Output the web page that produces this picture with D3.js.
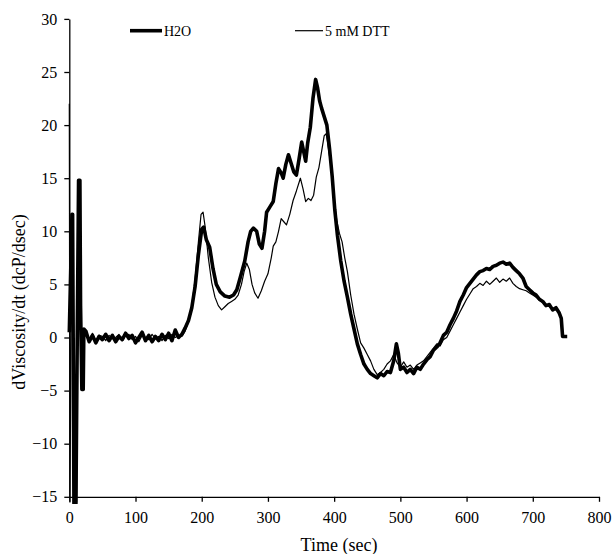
<!DOCTYPE html>
<html>
<head>
<meta charset="utf-8">
<script src="https://cdn.jsdelivr.net/npm/d3@7"></script>
<style>
  body { margin: 0; background: #fff; }
  svg text { font-family: "Liberation Serif", "Times New Roman", Times, serif; fill: #000; }
</style>
</head>
<body>
<div id="chart"></div>
<script>
// H2O series (time in sec, dViscosity/dt)
const h2oTime = [0, 2, 4, 5, 7, 10, 12, 14, 16, 17, 19, 21, 22, 25, 30, 35, 40, 45, 50, 55, 60, 65, 70, 75, 80, 85, 90, 95, 100, 105, 110, 115, 120, 125, 130, 135, 140, 145, 150, 155, 160, 165, 170, 175,
  180, 185, 190, 195, 200, 203, 207, 212, 217, 222, 228, 235, 242, 248, 253, 258, 265, 270, 274, 278, 283, 287, 291, 295, 298, 303, 308, 312, 316, 320, 323, 327, 331, 335, 339, 343, 347, 351, 354, 357, 360, 364, 368, 372, 375, 378, 381, 385, 389, 393, 397, 401, 405, 410, 415, 420, 425, 430, 435, 440, 445, 450, 455, 460, 465, 470, 475, 480, 485, 490, 494, 497, 500, 505, 510, 515, 520, 525, 530, 535, 540, 545, 550, 555, 560, 565, 570, 575, 580, 585, 590, 595, 600, 605, 610, 615, 620, 625, 630, 635, 640, 645, 650, 655, 660, 665, 670, 675, 680, 685, 690, 695, 700, 705, 710, 715, 720, 725, 730, 735, 740, 743, 745, 752];
const h2oValue = [0.5, 6, 11.6, 11.6, -15.6, -15.6, 0, 14.8, 14.8, 3, -4.9, -4.9, 0.8, 0.6, -0.4, 0.2, -0.5, 0.1, -0.2, 0.3, -0.3, 0.2, -0.4, 0.1, -0.2, 0.4, -0.1, 0.2, -0.5, 0.0, 0.5, -0.3, 0.2, -0.4, 0.1, -0.3, 0.3, -0.2, 0.4, -0.3, 0.7, 0.0, 0.3, 0.9,
  1.6, 2.8, 4.8, 7.8, 10.2, 10.4, 9.2, 8.5, 6.5, 5.0, 4.3, 3.9, 3.8, 4.0, 4.5, 5.6, 7.2, 9.0, 10.0, 10.3, 10.0, 8.8, 8.4, 10.0, 11.8, 12.3, 12.8, 14.5, 15.9, 15.5, 15.0, 16.3, 17.2, 16.4, 15.6, 15.3, 16.8, 18.4, 17.5, 16.6, 18.3, 19.8, 22.5, 24.3, 23.5, 22.3, 21.6, 20.8, 20.0, 17.8, 15.2, 12.0, 9.6, 7.2, 5.3, 3.8, 2.2, 0.8, -0.6, -1.6, -2.5, -3.0, -3.4, -3.6, -3.8, -3.4, -3.6, -3.2, -3.3, -2.2, -0.6, -1.5, -3.0, -2.8, -3.3, -3.0, -3.4, -2.8, -3.0, -2.5, -2.1, -1.8, -1.2, -0.9, -0.5, 0.2, 0.5, 1.2, 1.8, 2.5, 3.4, 4.0, 4.7, 5.1, 5.5, 5.9, 6.2, 6.3, 6.5, 6.4, 6.7, 6.8, 7.0, 7.1, 6.9, 7.0, 6.6, 6.3, 6.0, 5.6, 4.8, 4.5, 4.2, 4.0, 3.6, 3.4, 3.0, 3.1, 2.6, 2.8, 2.3, 1.8, 0.1, 0.1];

// 5 mM DTT series
const dttTime = [0, 1, 3, 5, 8, 11, 13, 15, 17, 19, 22, 25, 30, 35, 40, 45, 50, 55, 60, 65, 70, 75, 80, 85, 90, 95, 100, 105, 110, 115, 120, 125, 130, 135, 140, 145, 150, 155, 160, 165, 170, 175,
  180, 185, 190, 195, 199, 202, 205, 210, 215, 220, 225, 230, 235, 240, 245, 250, 255, 260, 264, 268, 272, 276, 280, 285, 290, 295, 300, 305, 308, 312, 316, 320, 324, 328, 333, 338, 343, 349, 353, 357, 361, 365, 369, 373, 377, 381, 385, 388, 392, 396, 400, 404, 408, 412, 416, 420, 425, 430, 435, 440, 445, 450, 455, 460, 465, 470, 475, 480, 485, 490, 495, 500, 505, 510, 515, 520, 525, 530, 535, 540, 545, 550, 555, 560, 565, 570, 575, 580, 585, 590, 595, 600, 605, 610, 615, 620, 625, 630, 635, 640, 645, 650, 655, 660, 665, 670, 675, 680, 685, 690, 695, 700, 705, 710, 715, 720, 725, 730, 735, 740, 743, 745, 750];
const dttValue = [22, -15.5, 4, 11, -15.5, -15.5, 5, 14, 2, -4.5, 0.6, 0.3, -0.2, 0.4, -0.3, 0.2, 0.1, -0.3, 0.2, -0.1, 0.0, 0.3, -0.3, 0.2, 0.3, -0.2, 0.1, -0.4, 0.2, 0.0, -0.2, 0.3, -0.1, 0.1, -0.3, 0.2, -0.1, 0.3, 0.0, 0.2, 0.1, 0.6,
  1.5, 3.0, 5.5, 9.0, 11.6, 11.8, 10.5, 7.5, 5.2, 3.8, 3.0, 2.6, 2.9, 3.2, 3.4, 3.6, 4.0, 5.0, 6.2, 7.0, 6.4, 5.0, 4.2, 3.7, 4.4, 5.3, 6.0, 7.5, 8.6, 9.0, 10.0, 11.2, 10.9, 10.6, 11.6, 12.9, 13.8, 15.0, 14.0, 12.8, 13.1, 12.9, 13.4, 15.1, 16.0, 17.5, 19.0, 19.2, 17.5, 15.8, 13.0, 11.0, 9.8, 9.0, 7.5, 6.2, 4.0, 2.2, 0.8, -0.5, -1.0, -1.6, -2.2, -3.0, -3.5, -3.3, -3.0, -2.5, -2.2, -1.6, -2.4, -2.8, -2.3, -2.8, -2.6, -3.0, -2.6, -2.4, -2.2, -1.8, -1.4, -1.0, -0.6, -0.8, -0.2, 0.0, 0.6, 1.2, 1.8, 2.4, 3.0, 3.6, 4.1, 4.6, 4.8, 5.1, 4.9, 5.3, 5.0, 5.3, 5.6, 5.2, 5.5, 5.3, 5.6, 5.1, 4.8, 4.6, 4.5, 4.4, 4.2, 4.0, 3.8, 3.5, 3.3, 3.1, 2.9, 2.7, 2.8, 2.4, 1.8, 0.1, 0.1];

const xTicks = [0, 100, 200, 300, 400, 500, 600, 700, 800];
const yTicks = [-15, -10, -5, 0, 5, 10, 15, 20, 25, 30];

const width = 612, height = 554;
const svg = d3.select("#chart").append("svg")
    .attr("width", width)
    .attr("height", height);

const x = d3.scaleLinear().domain([0, 800]).range([69.3, 599]);
const y = d3.scaleLinear().domain([-15, 30]).range([496.8, 18.9]);

// clip so the spikes only run a little past the x axis
svg.append("clipPath").attr("id", "plot")
  .append("rect")
    .attr("x", 60).attr("y", 0)
    .attr("width", 560).attr("height", 504);

// axes
const xAxis = svg.append("g")
    .attr("transform", `translate(0,${y(-15)})`)
    .call(d3.axisBottom(x).tickValues(xTicks).tickSize(5).tickSizeOuter(0).tickPadding(10));
const yAxis = svg.append("g")
    .attr("transform", `translate(${x(0)},0)`)
    .call(d3.axisLeft(y).tickValues(yTicks).tickSize(5).tickSizeOuter(0).tickPadding(7));

[xAxis, yAxis].forEach(a => {
    a.attr("font-family", null);
    a.selectAll("path, line").style("stroke", "#000").style("stroke-width", 1.3);
    a.selectAll("text").style("font-size", "16px");
});

const line = d3.line()
    .x(d => x(d[0]))
    .y(d => y(d[1]));

const h2o = h2oTime.map((t, i) => [t, h2oValue[i]]);
const dtt = dttTime.map((t, i) => [t, dttValue[i]]);

const g = svg.append("g").attr("clip-path", "url(#plot)");

g.append("path")
    .datum(dtt)
    .attr("d", line)
    .style("fill", "none")
    .style("stroke", "#000")
    .style("stroke-width", 1.2)
    .style("stroke-linejoin", "round");

g.append("path")
    .datum(h2o)
    .attr("d", line)
    .style("fill", "none")
    .style("stroke", "#000")
    .style("stroke-width", 3.6)
    .style("stroke-linejoin", "round");

// legend
const legend = [
    { name: "H2O", x0: 130, x1: 162, w: 3.6 },
    { name: "5 mM DTT", x0: 295, x1: 323, w: 1.2 }
];
legend.forEach(l => {
    svg.append("line")
        .attr("x1", l.x0).attr("x2", l.x1)
        .attr("y1", 30.7).attr("y2", 30.7)
        .style("stroke", "#000")
        .style("stroke-width", l.w);
    svg.append("text")
        .attr("x", l.x1 + 2)
        .attr("y", 35.5)
        .style("font-size", "14px")
        .text(l.name);
});

// axis titles
svg.append("text")
    .attr("x", 339)
    .attr("y", 551)
    .style("text-anchor", "middle")
    .style("font-size", "18px")
    .text("Time (sec)");

svg.append("text")
    .attr("transform", `translate(25,302) rotate(-90)`)
    .style("text-anchor", "middle")
    .style("font-size", "18px")
    .text("dViscosity/dt (dcP/dsec)");
</script>
</body>
</html>
